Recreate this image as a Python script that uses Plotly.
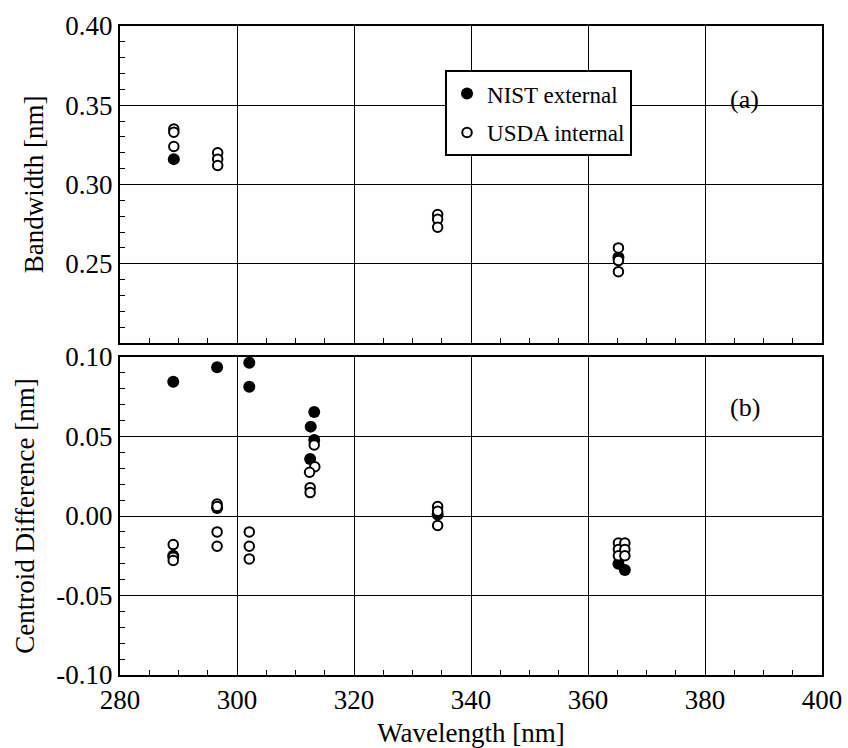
import plotly.graph_objects as go

# Panel (a): bandwidth
nist_a_x = [289.2, 365.2]
nist_a_y = [0.316, 0.254]
usda_a_x = [289.2, 289.2, 289.2, 296.7, 296.7, 296.7, 334.3, 334.3, 334.3, 365.2, 365.2, 365.2]
usda_a_y = [0.335, 0.333, 0.324, 0.320, 0.316, 0.312, 0.281, 0.278, 0.273, 0.260, 0.252, 0.245]

# Panel (b): centroid difference
nist_b_x = [289.1, 289.1, 296.6, 296.6, 302.1, 302.1, 313.2, 312.6, 313.2, 312.5, 334.3, 365.2, 366.3]
nist_b_y = [0.0845, -0.025, 0.0935, 0.005, 0.0964, 0.0813, 0.0654, 0.0562, 0.0478, 0.0358, 0.001, -0.030, -0.034]
usda_b_x = [289.1, 289.1, 289.1, 296.6, 296.6, 296.6, 296.6, 302.1, 302.1, 302.1,
            313.2, 313.3, 312.4, 312.5, 312.5, 334.3, 334.3, 334.3,
            365.2, 365.2, 365.2, 366.3, 366.3, 366.3]
usda_b_y = [-0.018, -0.026, -0.028, 0.0075, 0.006, -0.010, -0.019, -0.010, -0.019, -0.027,
            0.0447, 0.031, 0.0275, 0.0178, 0.0147, 0.006, 0.003, -0.006,
            -0.017, -0.021, -0.025, -0.017, -0.021, -0.025]

x_ticks = [280, 300, 320, 340, 360, 380, 400]
ya_ticks = [0.25, 0.30, 0.35, 0.40]
ya_ticktext = ["0.25", "0.30", "0.35", "0.40"]
yb_ticks = [-0.10, -0.05, 0.00, 0.05, 0.10]
yb_ticktext = ["-0.10", "-0.05", "0.00", "0.05", "0.10"]

FONT = "Liberation Serif, Times New Roman, serif"
TICK_SIZE = 27
TITLE_SIZE = 27
filled = dict(symbol="circle", size=12, color="black", line=dict(width=0))
hollow = dict(symbol="circle", size=9.5, color="white", line=dict(width=2, color="black"))

fig = go.Figure()
fig.add_trace(go.Scatter(x=nist_a_x, y=nist_a_y, mode="markers", marker=filled,
                         name="NIST external", legendgroup="n", xaxis="x2", yaxis="y2"))
fig.add_trace(go.Scatter(x=usda_a_x, y=usda_a_y, mode="markers", marker=hollow,
                         name="USDA internal", legendgroup="u", xaxis="x2", yaxis="y2"))
fig.add_trace(go.Scatter(x=nist_b_x, y=nist_b_y, mode="markers", marker=filled,
                         name="NIST external", legendgroup="n", showlegend=False))
fig.add_trace(go.Scatter(x=usda_b_x, y=usda_b_y, mode="markers", marker=hollow,
                         name="USDA internal", legendgroup="u", showlegend=False))

axis_common = dict(showline=True, mirror=True, linecolor="black", linewidth=2,
                   showgrid=True, gridcolor="black", gridwidth=1, zeroline=False,
                   ticks="inside", ticklen=8, tickcolor="black", automargin=False,
                   tickfont=dict(family=FONT, size=TICK_SIZE, color="black"))
x_minor = dict(ticks="inside", dtick=5, ticklen=5, tickcolor="black", showgrid=False)
y_minor = dict(ticks="inside", dtick=0.01, ticklen=5, tickcolor="black", showgrid=False)

fig.update_layout(
    width=848, height=748,
    margin=dict(l=120, r=26, t=26, b=73, autoexpand=False),
    paper_bgcolor="white", plot_bgcolor="white",
    font=dict(family=FONT, color="black"),
    showlegend=True,
    legend=dict(x=0.463, y=0.932, xanchor="left", yanchor="top",
                bgcolor="white", bordercolor="black", borderwidth=2,
                font=dict(family=FONT, size=23, color="black"),
                tracegroupgap=6, itemwidth=30),
    xaxis=dict(range=[280, 400], tickvals=x_ticks, anchor="y", domain=[0, 1],
               minor=x_minor,
               title=dict(text="Wavelength [nm]", font=dict(family=FONT, size=TITLE_SIZE),
                          standoff=21),
               **axis_common),
    yaxis=dict(range=[-0.10, 0.10], tickvals=yb_ticks, ticktext=yb_ticktext, domain=[0, 0.49],
               anchor="x", minor=y_minor,
               title=dict(text="Centroid Difference [nm]",
                          font=dict(family=FONT, size=TITLE_SIZE), standoff=14),
               **axis_common),
    xaxis2=dict(range=[280, 400], tickvals=x_ticks, anchor="y2", domain=[0, 1], matches="x",
                showticklabels=False, minor=x_minor, **axis_common),
    yaxis2=dict(range=[0.20, 0.40], tickvals=ya_ticks, ticktext=ya_ticktext, domain=[0.5116, 1],
                anchor="x2", minor=y_minor,
                title=dict(text="Bandwidth [nm]", font=dict(family=FONT, size=TITLE_SIZE),
                           standoff=14),
                **axis_common),
    annotations=[
        dict(x=386.8, y=0.3535, xref="x2", yref="y2", text="(a)", showarrow=False,
             font=dict(family=FONT, size=26, color="black")),
        dict(x=386.8, y=0.068, xref="x", yref="y", text="(b)", showarrow=False,
             font=dict(family=FONT, size=26, color="black")),
    ],
)

fig.write_html("out.html")
